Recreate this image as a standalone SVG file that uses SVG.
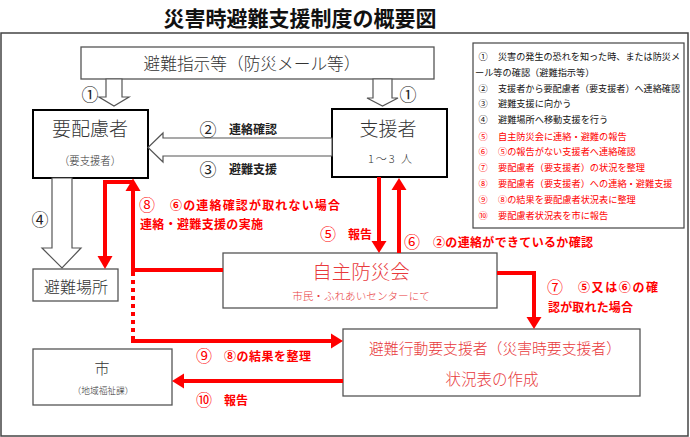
<svg xmlns="http://www.w3.org/2000/svg" width="690" height="437" viewBox="0 0 690 437">
<style>
text{font-family:"Noto Sans CJK JP","Noto Sans",sans-serif;dominant-baseline:central}
.box{fill:#fff;stroke:#555;stroke-width:1.3}
.tbox{fill:#fff;stroke:#000;stroke-width:2}
.hol{fill:#fff;stroke:#555;stroke-width:1.2}
.bt{fill:#333;font-weight:300;text-anchor:middle}
.rt{fill:#e8393c;font-weight:300;text-anchor:middle}
.lb{fill:#222;font-weight:bold;font-size:12px}
.num{fill:#222;font-size:17px;text-anchor:middle}
.rl{fill:#ff0000;font-weight:bold;font-size:12px}
.rnum{fill:#ff0000;font-size:16px;text-anchor:middle}
.rline{fill:none;stroke:#ff0000;stroke-width:4}
.rh{fill:#ff0000}
.lg{font-size:9.2px;fill:#111}
.lgr{font-size:9.2px;fill:#ff0000}
</style>
<rect width="690" height="437" fill="#fff"/>
<text x="300" y="17" text-anchor="middle" font-size="21" font-weight="bold" fill="#111">災害時避難支援制度の概要図</text>
<rect x="1" y="33" width="687" height="403" fill="none" stroke="#444" stroke-width="1.5"/>

<g id="legend">
<rect x="473" y="43" width="211" height="185" fill="#fff" stroke="#444" stroke-width="1.2"/>
<text class="lg" x="483" y="56" text-anchor="middle">①</text>
<text class="lg" x="498" y="56" textLength="182" lengthAdjust="spacingAndGlyphs">災害の発生の恐れを知った時、または防災メ</text>
<text class="lg" x="475" y="72">ール等の確認（避難指示等）</text>
<text class="lg" x="483" y="88" text-anchor="middle">②</text>
<text class="lg" x="498" y="88" textLength="182" lengthAdjust="spacingAndGlyphs">支援者から要配慮者（要支援者）へ連絡確認</text>
<text class="lg" x="483" y="103" text-anchor="middle">③</text>
<text class="lg" x="498" y="103">避難支援に向かう</text>
<text class="lg" x="483" y="119" text-anchor="middle">④</text>
<text class="lg" x="498" y="119">避難場所へ移動支援を行う</text>
<text class="lgr" x="483" y="136" text-anchor="middle">⑤</text>
<text class="lgr" x="498" y="136">自主防災会に連絡・避難の報告</text>
<text class="lgr" x="483" y="151" text-anchor="middle">⑥</text>
<text class="lgr" x="498" y="151">⑤の報告がない支援者へ連絡確認</text>
<text class="lgr" x="483" y="167" text-anchor="middle">⑦</text>
<text class="lgr" x="498" y="167">要配慮者（要支援者）の状況を整理</text>
<text class="lgr" x="483" y="183" text-anchor="middle">⑧</text>
<text class="lgr" x="498" y="183">要配慮者（要支援者）への連絡・避難支援</text>
<text class="lgr" x="483" y="199" text-anchor="middle">⑨</text>
<text class="lgr" x="498" y="199">⑧の結果を要配慮者状況表に整理</text>
<text class="lgr" x="483" y="215" text-anchor="middle">⑩</text>
<text class="lgr" x="498" y="215">要配慮者状況表を市に報告</text>
</g>

<g id="n-hinanshiji">
<rect class="box" x="81" y="47" width="353" height="32"/>
<text class="bt" x="252" y="63" font-size="16.7" textLength="217" lengthAdjust="spacingAndGlyphs">避難指示等（防災メール等）</text>
</g>

<g id="n-youhairyosha">
<rect class="tbox" x="33" y="110" width="115" height="68"/>
<text class="bt" x="90" y="127" font-size="19">要配慮者</text>
<text class="bt" x="90" y="160" font-size="11" textLength="62" lengthAdjust="spacingAndGlyphs">（要支援者）</text>
</g>

<g id="n-shiensha">
<rect class="tbox" x="332" y="109" width="115" height="68"/>
<text class="bt" x="388" y="127" font-size="19">支援者</text>
<text class="bt" x="390" y="158" font-size="11" textLength="44" lengthAdjust="spacing">1～3 人</text>
</g>

<g id="n-hinanbasho">
<rect class="box" x="33" y="269" width="85" height="32"/>
<text class="bt" x="76" y="286" font-size="16">避難場所</text>
</g>

<g id="n-jishubousai">
<rect class="box" x="223" y="253" width="274" height="55"/>
<text class="rt" x="361" y="270" font-size="19.5">自主防災会</text>
<text class="rt" x="361" y="295" font-size="10.6">市民・ふれあいセンターにて</text>
</g>

<g id="n-hinankoudou">
<rect class="box" x="343" y="329" width="297" height="67"/>
<text class="rt" x="495" y="347" font-size="15" textLength="252" lengthAdjust="spacingAndGlyphs">避難行動要支援者（災害時要支援者）</text>
<text class="rt" x="492" y="378" font-size="15.5">状況表の作成</text>
</g>

<g id="n-shi">
<rect class="box" x="33" y="349" width="139" height="56"/>
<text class="bt" x="102" y="367" font-size="15">市</text>
<text class="bt" x="103" y="390" font-size="9" textLength="61" lengthAdjust="spacingAndGlyphs">（地域福祉課）</text>
</g>

<g id="connectors">
<polygon class="hol" points="106,79 122,79 122,97 129,97 114,106 99,97 106,97"/>
<polygon class="hol" points="373,79 392,79 392,98 398,98 382.5,106 367,98 373,98"/>
<polygon class="hol" points="332,138 163,138 163,133 148,147.5 163,162 163,156 332,156"/>
<polygon class="hol" points="52,178 72,178 72,248 81,248 62,268 42,248 52,248"/>

<polyline class="rline" points="379,177 379,243"/>
<polygon class="rh" points="371.5,241 386.5,241 379,253"/>
<polyline class="rline" points="399,253 399,188"/>
<polygon class="rh" points="391.5,190 406.5,190 399,178"/>
<polyline class="rline" points="497,273 534,273 534,319"/>
<polygon class="rh" points="526.5,317 541.5,317 534,329"/>
<polyline class="rline" points="223,270 133,270 133,189"/>
<polygon class="rh" points="125.5,191 140.5,191 133,178.5"/>
<polyline class="rline" points="133,182 105,182 105,258"/>
<polygon class="rh" points="97.5,256 112.5,256 105,269"/>
<line class="rline" x1="133" y1="272" x2="133" y2="339" stroke-dasharray="4,4"/>
<polyline class="rline" points="133,339 133,341 333,341"/>
<polygon class="rh" points="331,333.5 331,348.5 343,341"/>
<polyline class="rline" points="343,381 182,381"/>
<polygon class="rh" points="184,373.5 184,388.5 172,381"/>
</g>

<g id="labels">
<text class="num" x="90" y="93">①</text>
<text class="num" x="408" y="93">①</text>
<text class="num" x="208" y="128">②</text>
<text class="lb" x="229" y="128">連絡確認</text>
<text class="num" x="208" y="168">③</text>
<text class="lb" x="229" y="168">避難支援</text>
<text class="num" x="40" y="218">④</text>
<text class="rnum" x="147" y="204">⑧</text>
<text class="rl" x="170" y="204" textLength="170" lengthAdjust="spacing">⑥の連絡確認が取れない場合</text>
<text class="rl" x="140" y="223" textLength="123" lengthAdjust="spacing">連絡・避難支援の実施</text>
<text class="rnum" x="328" y="233">⑤</text>
<text class="rl" x="348" y="233">報告</text>
<text class="rnum" x="412" y="241">⑥</text>
<text class="rl" x="433" y="241" textLength="160" lengthAdjust="spacing">②の連絡ができているか確認</text>
<text class="rnum" x="555" y="286">⑦</text>
<text class="rl" x="578" y="286" textLength="80" lengthAdjust="spacing">⑤又は⑥の確</text>
<text class="rl" x="548" y="306" textLength="85" lengthAdjust="spacing">認が取れた場合</text>
<text class="rnum" x="204" y="355">⑨</text>
<text class="rl" x="224" y="355" textLength="87" lengthAdjust="spacing">⑧の結果を整理</text>
<text class="rnum" x="204" y="399">⑩</text>
<text class="rl" x="224" y="399">報告</text>
</g>
</svg>
